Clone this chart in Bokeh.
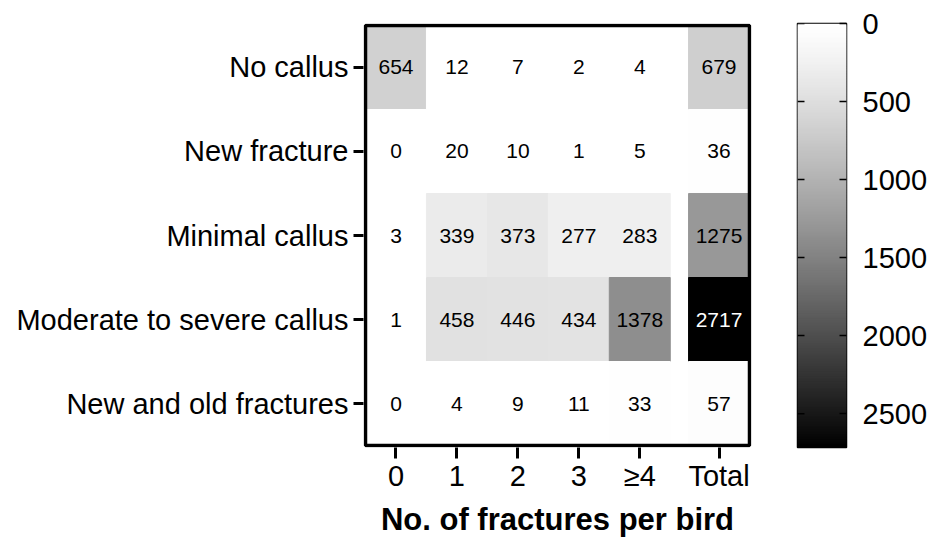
import numpy as np
from bokeh.plotting import figure
from bokeh.models import (Range1d, FixedTicker, LinearAxis,
                          ColumnDataSource, LinearColorMapper)
from bokeh.layouts import row
from bokeh.transform import transform
from bokeh.core.properties import value
from bokeh.embed import file_html
from bokeh.resources import INLINE

# ---------------- data ----------------
rows = ["No callus", "New fracture", "Minimal callus",
        "Moderate to severe callus", "New and old fractures"]
columns = ["0", "1", "2", "3", "\u22654", "Total"]
no_callus = [654, 12, 7, 2, 4, 679]
new_fracture = [0, 20, 10, 1, 5, 36]
minimal_callus = [3, 339, 373, 277, 283, 1275]
moderate_severe = [1, 458, 446, 434, 1378, 2717]
new_and_old = [0, 4, 9, 11, 33, 57]
colorbar_ticks = [0, 500, 1000, 1500, 2000, 2500]
x_title = "No. of fractures per bird"

table = [no_callus, new_fracture, minimal_callus, moderate_severe, new_and_old]

FONT = "Liberation Sans"
GAP = 0.3  # visual gap before the Total column

def col_pos(i):
    return i + (GAP if columns[i] == "Total" else 0.0)

xs, ys, vals, labels = [], [], [], []
for j, rowvals in enumerate(table):
    for i, v in enumerate(rowvals):
        xs.append(col_pos(i))
        ys.append(j)
        vals.append(v)
        labels.append(str(v))
vmax = max(max(rv) for rv in table)
tcolors = ["white" if v > 0.75 * vmax else "black" for v in vals]

t = np.linspace(0, 1, 256)
g = np.round(255 * (1 - t ** 1.2)).astype(int)
palette = ["#%02x%02x%02x" % (c, c, c) for c in g]
mapper = LinearColorMapper(palette=palette, low=0, high=vmax)

src = ColumnDataSource(dict(x=xs, y=ys, v=vals, label=labels, tc=tcolors))

# ---------------- main heatmap ----------------
MAIN_W = 775
H = 541
FL, FR, FT, FB = 363, 751, 22, 447          # frame box (px)
x_lo, x_hi = -0.5, len(columns) - 0.5 + GAP
y_lo, y_hi = -0.5, len(rows) - 0.5
pad_x = 2.0 * (x_hi - x_lo) / (FR - FL - 4)
pad_y = 2.0 * (y_hi - y_lo) / (FB - FT - 4)
xr = Range1d(x_lo - pad_x, x_hi + pad_x)
yr = Range1d(y_hi + pad_y, y_lo - pad_y)    # first row at the top

p = figure(width=MAIN_W, height=H, output_backend="svg", toolbar_location=None,
           x_range=xr, y_range=yr,
           min_border_left=FL, min_border_right=MAIN_W - FR,
           min_border_top=FT, min_border_bottom=H - FB)
p.rect(x="x", y="y", width=1, height=1, source=src,
       fill_color=transform("v", mapper), line_color=transform("v", mapper),
       line_width=1)
p.text(x="x", y="y", text="label", source=src, text_align="center",
       text_baseline="middle", text_font=value(FONT), text_font_size="21px",
       text_color="tc")
# heavy frame around the cell area
p.quad(left=x_lo, right=x_hi, bottom=y_hi, top=y_lo,
       fill_color=None, line_color="black", line_width=3.5)

p.xgrid.visible = False
p.ygrid.visible = False
p.outline_line_color = None
p.background_fill_color = "white"
p.border_fill_color = "white"

xa = p.xaxis[0]
xa.ticker = FixedTicker(ticks=[col_pos(i) for i in range(len(columns))])
xa.major_label_overrides = {col_pos(i): c for i, c in enumerate(columns)}
xa.minor_tick_line_color = None
xa.axis_line_color = None
xa.major_tick_in = 0
xa.major_tick_out = 11
xa.major_tick_line_width = 3
xa.major_label_standoff = 1
xa.major_label_text_font = FONT
xa.major_label_text_font_size = "29px"
xa.major_label_text_color = "black"
xa.axis_label = x_title
xa.axis_label_standoff = 7
xa.axis_label_text_font = FONT
xa.axis_label_text_font_size = "31px"
xa.axis_label_text_font_style = "bold"
xa.axis_label_text_color = "black"

ya = p.yaxis[0]
ya.ticker = FixedTicker(ticks=list(range(len(rows))))
ya.major_label_overrides = {j: r for j, r in enumerate(rows)}
ya.minor_tick_line_color = None
ya.axis_line_color = None
ya.major_tick_in = 0
ya.major_tick_out = 10
ya.major_tick_line_width = 3
ya.major_label_standoff = 5
ya.major_label_text_font = FONT
ya.major_label_text_font_size = "29px"
ya.major_label_text_color = "black"

# ---------------- colour bar ----------------
CB_W = 940 - MAIN_W
cb = figure(width=CB_W, height=H, output_backend="svg", toolbar_location=None,
            x_range=Range1d(0, 1), y_range=Range1d(vmax, 0),
            x_axis_location=None, y_axis_location=None,
            min_border_left=797 - MAIN_W, min_border_right=CB_W - (846 - MAIN_W),
            min_border_top=23, min_border_bottom=H - 447)
edges = np.linspace(0, vmax, len(palette) + 1)
step = edges[1] - edges[0]
cb.quad(left=0, right=1, bottom=edges[:-1], top=np.minimum(edges[1:] + step, vmax),
        fill_color=palette, line_color=None)
# inward ticks on the left edge of the bar
cb.segment(x0=0, x1=7 / 49, y0=colorbar_ticks, y1=colorbar_ticks,
           line_color="black", line_width=1.5)
cb.xgrid.visible = False
cb.ygrid.visible = False
cb.outline_line_color = "black"
cb.outline_line_width = 1.5
cb.background_fill_color = "white"
cb.border_fill_color = "white"

ra = LinearAxis(ticker=FixedTicker(ticks=colorbar_ticks))
ra.axis_line_color = None
ra.minor_tick_line_color = None
ra.major_tick_in = 7
ra.major_tick_out = 0
ra.major_tick_line_width = 1.5
ra.major_label_standoff = 16
ra.major_label_text_font = FONT
ra.major_label_text_font_size = "29px"
ra.major_label_text_color = "black"
cb.add_layout(ra, "right")

layout = row(p, cb)
open("out.html", "w").write(file_html(layout, INLINE))
